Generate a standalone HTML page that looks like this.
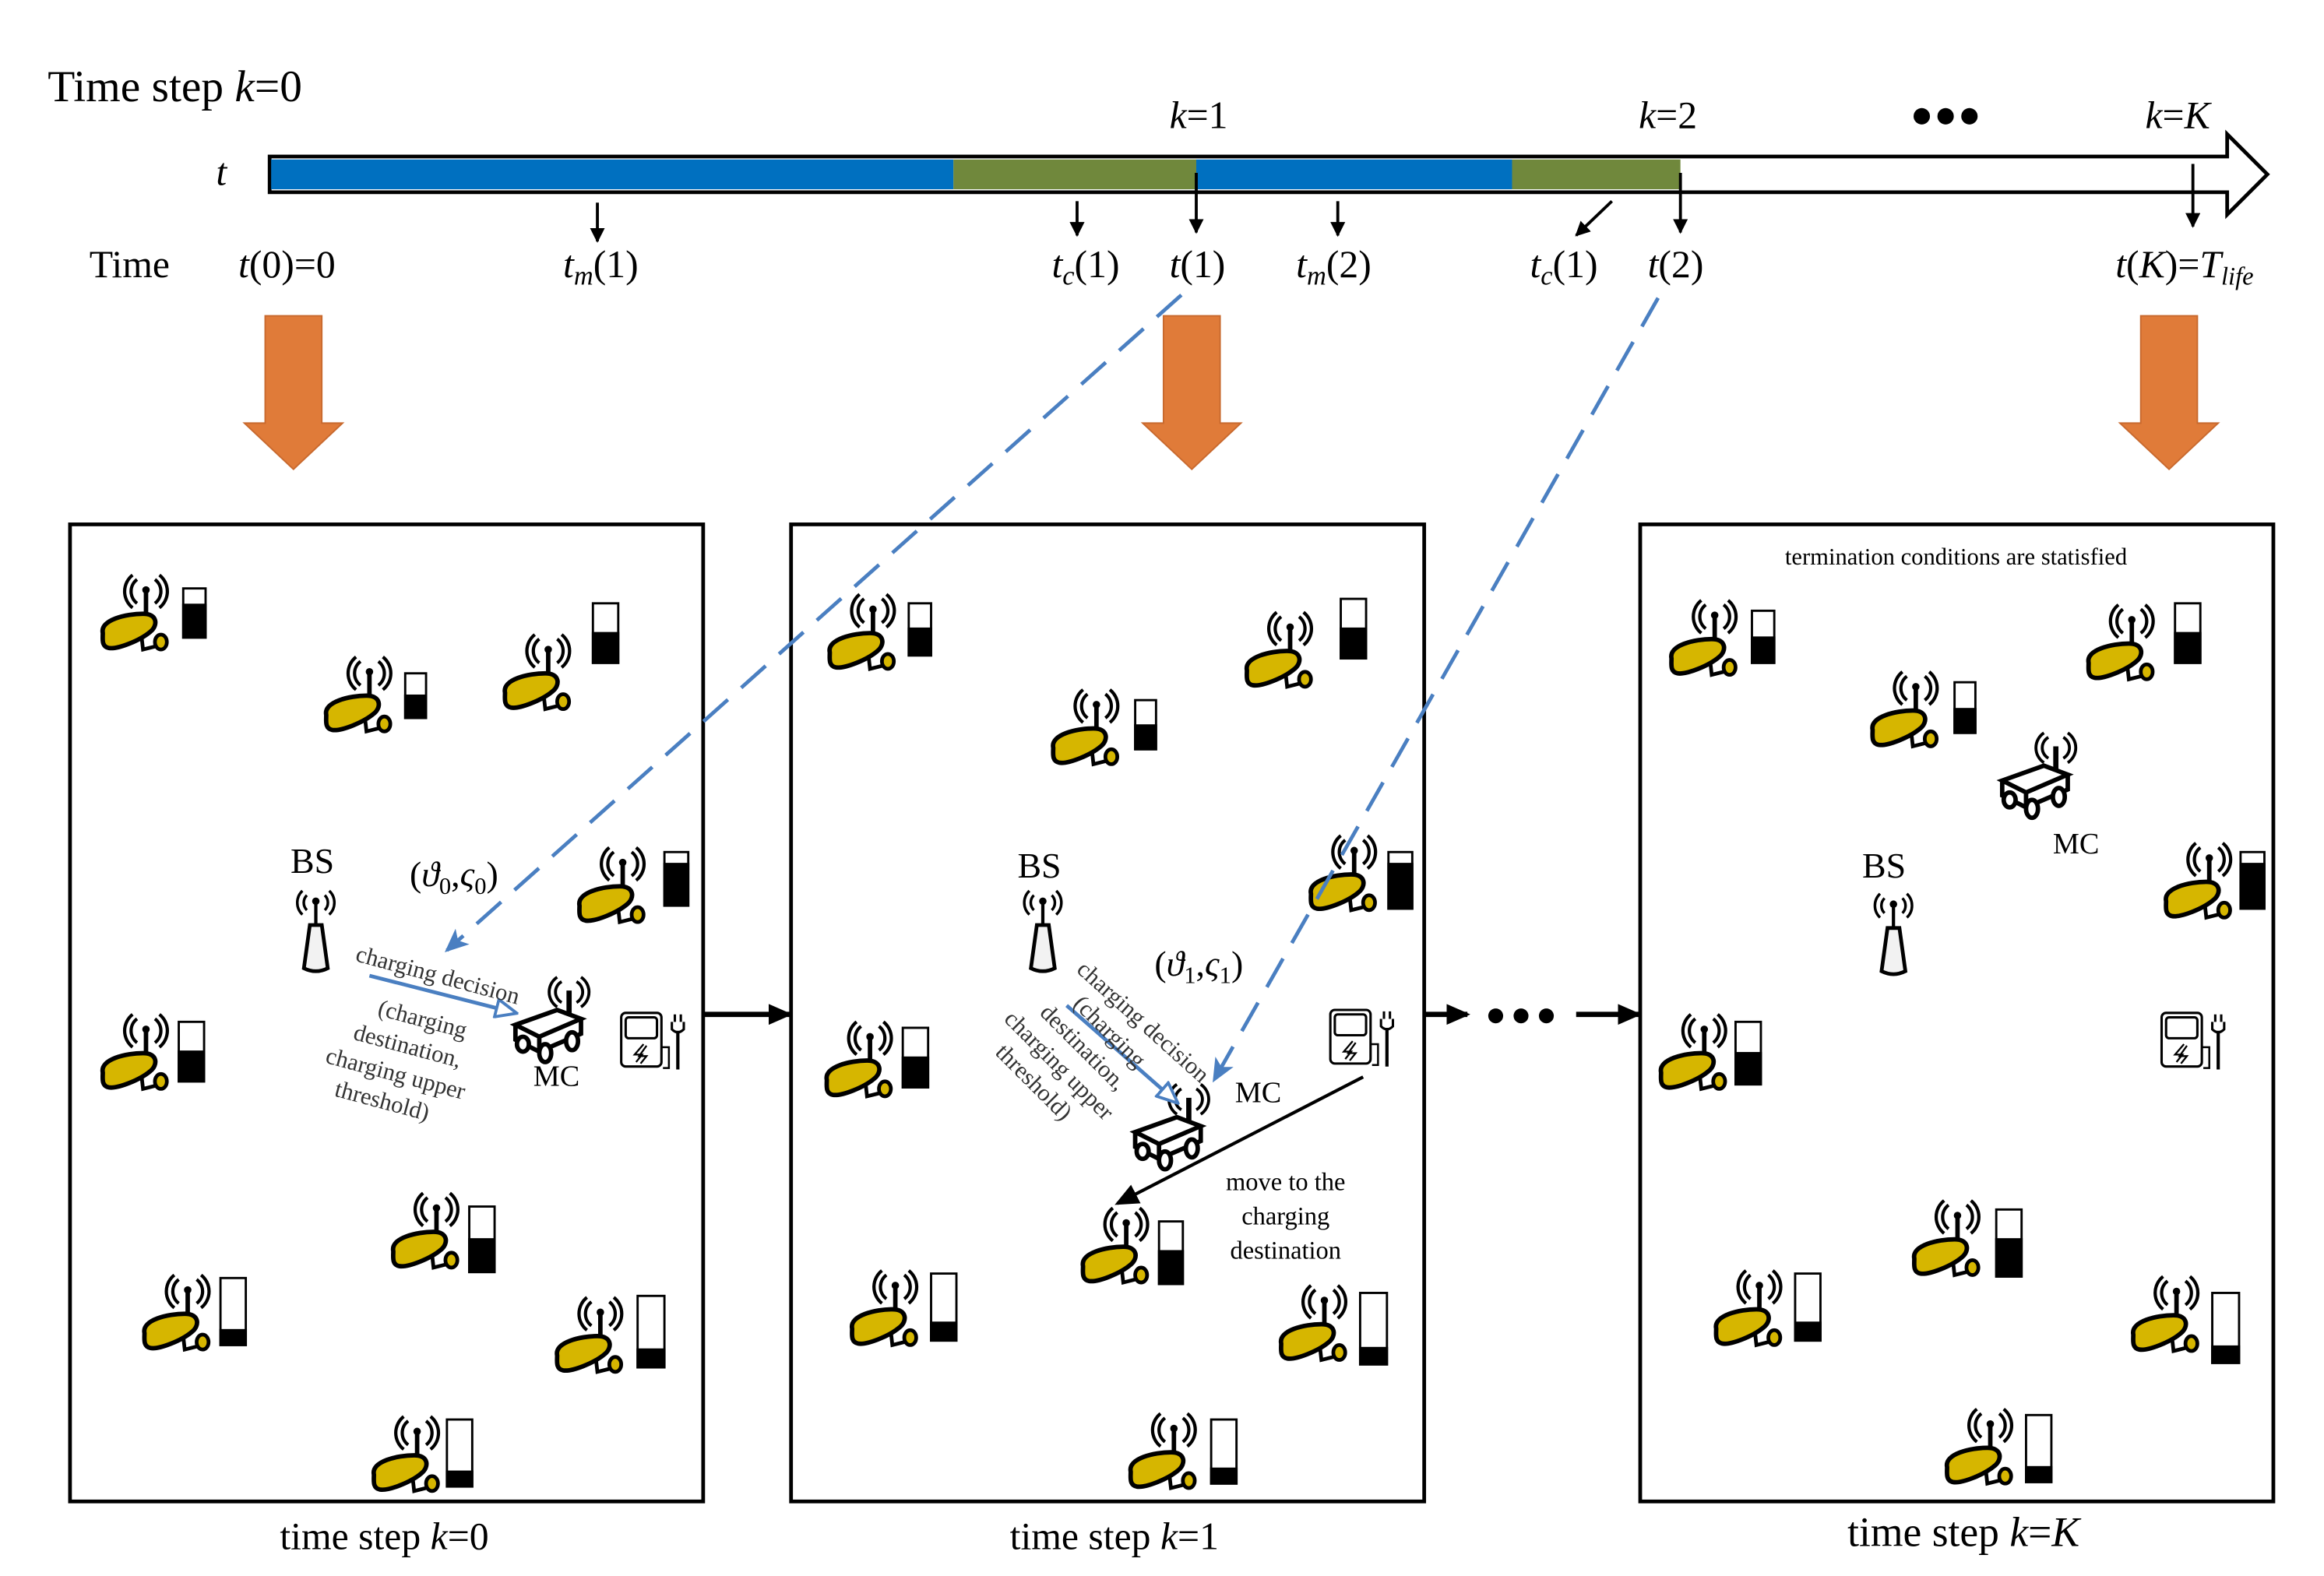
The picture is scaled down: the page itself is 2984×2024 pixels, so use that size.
<!DOCTYPE html>
<html><head><meta charset="utf-8"><style>html,body{margin:0;padding:0;background:#fff}svg{display:block}</style></head>
<body>
<svg width="2984" height="2024" viewBox="0 0 1560 1058" xmlns="http://www.w3.org/2000/svg" font-family="'Liberation Serif',serif">
<defs>
<g id="sensor">
  <path d="M27,4 A10,10 0 0 0 27,20 M24,1 A14,14 0 0 0 24,23 M39,4 A10,10 0 0 1 39,20 M42,1 A14,14 0 0 1 42,23" fill="none" stroke="#000" stroke-width="2.2"/>
  <line x1="33" y1="10" x2="33" y2="32" stroke="#000" stroke-width="3"/>
  <circle cx="33" cy="11" r="2.5"/>
  <path d="M4,40 C2,31 20,27 31,27 C41,27 41,35 36,39 C29,45 14,51 8,50 C3,49 4,44 4,40Z" fill="#d6b600" stroke="#000" stroke-width="3"/>
  <path d="M30,42 L31,51 L39,49" fill="none" stroke="#000" stroke-width="2.5"/>
  <ellipse cx="43" cy="46" rx="4" ry="5" fill="#d6b600" stroke="#000" stroke-width="2.5"/>
</g>
<g id="cart">
  <path d="M33,3 A8,8 0 0 0 33,17 M30,0 A12,12 0 0 0 30,20 M43,3 A8,8 0 0 1 43,17 M46,0 A12,12 0 0 1 46,20" fill="none" stroke="#000" stroke-width="2"/>
  <line x1="38" y1="9" x2="38" y2="30" stroke="#000" stroke-width="3.5"/>
  <path d="M2,32 L30,22 L46,28 L18,40 Z" fill="#fff" stroke="#000" stroke-width="3"/>
  <path d="M2,32 L2,42 L18,50 L46,38 L46,28 M18,40 L18,50" fill="none" stroke="#000" stroke-width="3"/>
  <ellipse cx="7" cy="45" rx="4" ry="5" fill="#fff" stroke="#000" stroke-width="3"/>
  <ellipse cx="22" cy="51" rx="4" ry="6" fill="#fff" stroke="#000" stroke-width="3"/>
  <ellipse cx="40" cy="43" rx="4" ry="6" fill="#fff" stroke="#000" stroke-width="3"/>
</g>
<g id="bs">
  <path d="M-6,3 A7,7 0 0 0 -6,13 M-9,0 A11,11 0 0 0 -9,16 M6,3 A7,7 0 0 1 6,13 M9,0 A11,11 0 0 1 9,16" fill="none" stroke="#000" stroke-width="1.8"/>
  <circle cx="0" cy="7" r="2.5"/>
  <line x1="0" y1="8" x2="0" y2="24" stroke="#000" stroke-width="2.2"/>
  <path d="M-4,23 L4,23 L8,52 Q0,56 -8,52 Z" fill="#f2f2f2" stroke="#000" stroke-width="2.5"/>
</g>
<g id="chg">
  <rect x="0" y="0" width="27" height="36" rx="3" fill="#fff" stroke="#000" stroke-width="1.6"/>
  <rect x="3" y="3" width="21" height="14" rx="2" fill="#fff" stroke="#000" stroke-width="1.6"/>
  <path d="M15,21 L9,28 L14,28 L10,33 M17,22 L12,29 L17,29 L13,34" fill="none" stroke="#000" stroke-width="1.2"/>
  <path d="M27,23 L32,23 L32,37 L28,37" fill="none" stroke="#000" stroke-width="1.3"/>
  <line x1="38" y1="12" x2="38" y2="38" stroke="#000" stroke-width="2.2"/>
  <path d="M34,6 L34,11 Q38,15 42,11 L42,6 M36,1 L36,6 M40,1 L40,6" fill="none" stroke="#000" stroke-width="1.6"/>
</g>
<marker id="ah" markerWidth="10" markerHeight="10" refX="9" refY="5" orient="auto" markerUnits="userSpaceOnUse"><path d="M0,0 L10,5 L0,10 Z" fill="#000"/></marker>
<marker id="ahb" markerWidth="16" markerHeight="14" refX="14" refY="7" orient="auto" markerUnits="userSpaceOnUse"><path d="M0,0 L16,7 L0,14 L4,7 Z" fill="#4a7fc1"/></marker>
<marker id="aho" markerWidth="16" markerHeight="14" refX="14" refY="7" orient="auto" markerUnits="userSpaceOnUse"><path d="M1,1 L15,7 L1,13 Z" fill="#fff" stroke="#4a7fc1" stroke-width="2"/></marker>
<marker id="ahk" markerWidth="16" markerHeight="14" refX="14" refY="7" orient="auto" markerUnits="userSpaceOnUse"><path d="M0,0 L16,7 L0,14 Z" fill="#000"/></marker>
</defs>

<!-- Timeline -->
<text x="32" y="68" font-size="30">Time step <tspan font-style="italic">k</tspan>=0</text>
<text x="145" y="124" font-size="26" font-style="italic">t</text>
<path d="M181,105 L1495,105 L1495,90 L1522,117 L1495,144 L1495,129 L181,129 Z" fill="#fff" stroke="#000" stroke-width="2.5"/>
<rect x="182" y="107" width="458" height="20" fill="#0070c0"/>
<rect x="640" y="107" width="163" height="20" fill="#70883c"/>
<rect x="803" y="107" width="212" height="20" fill="#0070c0"/>
<rect x="1015" y="107" width="113" height="20" fill="#70883c"/>
<g font-size="26" font-style="italic">
<text x="785" y="86">k<tspan font-style="normal">=1</tspan></text>
<text x="1100" y="86">k<tspan font-style="normal">=2</tspan></text>
<text x="1440" y="86">k<tspan font-style="normal">=</tspan>K</text>
</g>
<circle cx="1290" cy="78" r="5.5"/><circle cx="1306" cy="78" r="5.5"/><circle cx="1322" cy="78" r="5.5"/>
<g stroke="#000" stroke-width="2" marker-end="url(#ah)">
<line x1="401" y1="136" x2="401" y2="162"/>
<line x1="723" y1="135" x2="723" y2="158"/>
<line x1="803" y1="116" x2="803" y2="156"/>
<line x1="898" y1="135" x2="898" y2="158"/>
<line x1="1082" y1="135" x2="1058" y2="158"/>
<line x1="1128" y1="116" x2="1128" y2="156"/>
<line x1="1472" y1="110" x2="1472" y2="152"/>
</g>
<g font-size="26">
<text x="60" y="186">Time</text>
<text x="160" y="186"><tspan font-style="italic">t</tspan>(0)=0</text>
<text x="378" y="186"><tspan font-style="italic">t<tspan font-size="18" dy="5">m</tspan></tspan><tspan dy="-5">(1)</tspan></text>
<text x="706" y="186"><tspan font-style="italic">t<tspan font-size="18" dy="5">c</tspan></tspan><tspan dy="-5">(1)</tspan></text>
<text x="785" y="186"><tspan font-style="italic">t</tspan>(1)</text>
<text x="870" y="186"><tspan font-style="italic">t<tspan font-size="18" dy="5">m</tspan></tspan><tspan dy="-5">(2)</tspan></text>
<text x="1027" y="186"><tspan font-style="italic">t<tspan font-size="18" dy="5">c</tspan></tspan><tspan dy="-5">(1)</tspan></text>
<text x="1106" y="186"><tspan font-style="italic">t</tspan>(2)</text>
<text x="1420" y="186"><tspan font-style="italic">t</tspan>(<tspan font-style="italic">K</tspan>)=<tspan font-style="italic">T<tspan font-size="17" dy="5">life</tspan></tspan></text>
</g>

<!-- orange arrows -->
<g fill="#e07b39" stroke="#c8692e" stroke-width="1">
<path d="M178,212 L216,212 L216,284 L230,284 L197,315 L164,284 L178,284 Z"/>
<path d="M781,212 L819,212 L819,284 L833,284 L800,315 L767,284 L781,284 Z"/>
<path d="M1437,212 L1475,212 L1475,284 L1489,284 L1456,315 L1423,284 L1437,284 Z"/>
</g>

<!-- panels -->
<g fill="none" stroke="#000" stroke-width="2.5">
<rect x="47" y="352" width="425" height="656"/>
<rect x="531" y="352" width="425" height="656"/>
<rect x="1101" y="352" width="425" height="656"/>
</g>
<g stroke="#000" stroke-width="3.5" marker-end="url(#ahk)">
<line x1="472" y1="681" x2="530" y2="681"/>
<line x1="957" y1="681" x2="985" y2="681"/>
<line x1="1058" y1="681" x2="1100" y2="681"/>
</g>
<circle cx="1004" cy="682" r="5"/><circle cx="1021" cy="682" r="5"/><circle cx="1038" cy="682" r="5"/>

<!-- sensors -->
<g>
<use href="#sensor" x="65" y="385"/><use href="#sensor" x="215" y="440"/><use href="#sensor" x="335" y="425"/>
<use href="#sensor" x="385" y="568"/><use href="#sensor" x="65" y="680"/><use href="#sensor" x="260" y="800"/>
<use href="#sensor" x="93" y="855"/><use href="#sensor" x="370" y="870"/><use href="#sensor" x="247" y="950"/>
<use href="#sensor" x="553" y="398"/><use href="#sensor" x="833" y="410"/><use href="#sensor" x="703" y="462"/>
<use href="#sensor" x="876" y="560"/><use href="#sensor" x="551" y="685"/><use href="#sensor" x="723" y="810"/>
<use href="#sensor" x="568" y="852"/><use href="#sensor" x="856" y="862"/><use href="#sensor" x="755" y="948"/>
<use href="#sensor" x="1118" y="402"/><use href="#sensor" x="1398" y="405"/><use href="#sensor" x="1253" y="450"/>
<use href="#sensor" x="1450" y="565"/><use href="#sensor" x="1111" y="680"/><use href="#sensor" x="1281" y="805"/>
<use href="#sensor" x="1148" y="852"/><use href="#sensor" x="1428" y="856"/><use href="#sensor" x="1303" y="945"/>
</g>
<!-- batteries: white box, black fill bottom -->
<g stroke="#000" stroke-width="1.5">
<!-- panel1 -->
<rect x="123" y="395" width="15" height="33" fill="#fff"/><rect x="123" y="406" width="15" height="22" fill="#000"/>
<rect x="272" y="452" width="14" height="30" fill="#fff"/><rect x="272" y="467" width="14" height="15" fill="#000"/>
<rect x="398" y="405" width="17" height="40" fill="#fff"/><rect x="398" y="425" width="17" height="20" fill="#000"/>
<rect x="446" y="572" width="16" height="36" fill="#fff"/><rect x="446" y="580" width="16" height="28" fill="#000"/>
<rect x="120" y="686" width="17" height="40" fill="#fff"/><rect x="120" y="706" width="17" height="20" fill="#000"/>
<rect x="315" y="810" width="17" height="44" fill="#fff"/><rect x="315" y="832" width="17" height="22" fill="#000"/>
<rect x="148" y="858" width="17" height="45" fill="#fff"/><rect x="148" y="893" width="17" height="10" fill="#000"/>
<rect x="428" y="870" width="18" height="48" fill="#fff"/><rect x="428" y="906" width="18" height="12" fill="#000"/>
<rect x="300" y="953" width="17" height="45" fill="#fff"/><rect x="300" y="988" width="17" height="10" fill="#000"/>
<!-- panel2 -->
<rect x="610" y="405" width="15" height="35" fill="#fff"/><rect x="610" y="422" width="15" height="18" fill="#000"/>
<rect x="900" y="402" width="17" height="40" fill="#fff"/><rect x="900" y="422" width="17" height="20" fill="#000"/>
<rect x="762" y="470" width="14" height="33" fill="#fff"/><rect x="762" y="487" width="14" height="16" fill="#000"/>
<rect x="932" y="572" width="16" height="38" fill="#fff"/><rect x="932" y="580" width="16" height="30" fill="#000"/>
<rect x="606" y="690" width="17" height="40" fill="#fff"/><rect x="606" y="710" width="17" height="20" fill="#000"/>
<rect x="778" y="820" width="16" height="42" fill="#fff"/><rect x="778" y="840" width="16" height="22" fill="#000"/>
<rect x="625" y="855" width="17" height="45" fill="#fff"/><rect x="625" y="888" width="17" height="12" fill="#000"/>
<rect x="913" y="868" width="18" height="48" fill="#fff"/><rect x="913" y="905" width="18" height="11" fill="#000"/>
<rect x="813" y="953" width="17" height="43" fill="#fff"/><rect x="813" y="986" width="17" height="10" fill="#000"/>
<!-- panel3 -->
<rect x="1176" y="410" width="15" height="35" fill="#fff"/><rect x="1176" y="428" width="15" height="17" fill="#000"/>
<rect x="1460" y="405" width="17" height="40" fill="#fff"/><rect x="1460" y="425" width="17" height="20" fill="#000"/>
<rect x="1312" y="458" width="14" height="34" fill="#fff"/><rect x="1312" y="476" width="14" height="16" fill="#000"/>
<rect x="1504" y="572" width="16" height="38" fill="#fff"/><rect x="1504" y="580" width="16" height="30" fill="#000"/>
<rect x="1165" y="686" width="17" height="42" fill="#fff"/><rect x="1165" y="707" width="17" height="21" fill="#000"/>
<rect x="1340" y="812" width="17" height="45" fill="#fff"/><rect x="1340" y="832" width="17" height="25" fill="#000"/>
<rect x="1205" y="855" width="17" height="45" fill="#fff"/><rect x="1205" y="888" width="17" height="12" fill="#000"/>
<rect x="1485" y="868" width="18" height="47" fill="#fff"/><rect x="1485" y="904" width="18" height="11" fill="#000"/>
<rect x="1360" y="950" width="17" height="45" fill="#fff"/><rect x="1360" y="985" width="17" height="10" fill="#000"/>
</g>

<!-- BS, chargers, carts -->
<use href="#bs" x="212" y="598"/><use href="#bs" x="700" y="598"/><use href="#bs" x="1271" y="600"/>
<use href="#chg" x="417" y="680"/><use href="#chg" x="893" y="678"/><use href="#chg" x="1451" y="680"/>
<use href="#cart" x="344" y="656"/><use href="#cart" x="760" y="728"/><use href="#cart" x="1342" y="492"/>

<g font-size="24">
<text x="195" y="586">BS</text><text x="683" y="589">BS</text><text x="1250" y="589">BS</text>
</g>
<g font-size="20">
<text x="358" y="729">MC</text><text x="829" y="740">MC</text><text x="1378" y="573">MC</text>
</g>
<text x="275" y="595" font-size="24">(<tspan font-style="italic">ϑ</tspan><tspan font-size="16" dy="5">0</tspan><tspan dy="-5">,</tspan><tspan font-style="italic">ς</tspan><tspan font-size="16" dy="5">0</tspan><tspan dy="-5">)</tspan></text>
<text x="775" y="655" font-size="24">(<tspan font-style="italic">ϑ</tspan><tspan font-size="16" dy="5">1</tspan><tspan dy="-5">,</tspan><tspan font-style="italic">ς</tspan><tspan font-size="16" dy="5">1</tspan><tspan dy="-5">)</tspan></text>

<!-- dashed blue -->
<g stroke="#4a7fc1" stroke-width="2.5" fill="none" stroke-dasharray="22,12">
<line x1="793" y1="198" x2="300" y2="638" marker-end="url(#ahb)"/>
<line x1="1113" y1="200" x2="815" y2="725" marker-end="url(#ahb)"/>
</g>
<!-- blue decision arrows -->
<g stroke="#4a7fc1" stroke-width="2.5">
<line x1="248" y1="655" x2="346" y2="680" marker-end="url(#aho)"/>
<line x1="716" y1="675" x2="790" y2="740" marker-end="url(#aho)"/>
</g>
<!-- move arrow -->
<line x1="915" y1="723" x2="750" y2="808" stroke="#000" stroke-width="2.2" marker-end="url(#ahk)"/>

<g font-size="16" fill="#333">
<text transform="translate(238,645) rotate(15)">charging decision</text>
<g transform="translate(258,664) rotate(15)" text-anchor="middle">
<text x="30" y="18">(charging</text><text x="25" y="38">destination,</text><text x="22" y="58">charging upper</text><text x="18" y="78">threshold)</text>
</g>
<text transform="translate(722,652) rotate(42)">charging decision</text>
<g transform="translate(720,675) rotate(45)" text-anchor="middle">
<text x="30" y="0">(charging</text><text x="25" y="20">destination,</text><text x="22" y="40">charging upper</text><text x="18" y="60">threshold)</text>
</g>
</g>
<g font-size="17" text-anchor="middle">
<text x="863" y="799">move to the</text><text x="863" y="822">charging</text><text x="863" y="845">destination</text>
<text x="1313" y="379" font-size="16">termination conditions are statisfied</text>
</g>

<g font-size="26" text-anchor="middle">
<text x="258" y="1040">time step <tspan font-style="italic">k</tspan>=0</text>
<text x="748" y="1040">time step  <tspan font-style="italic">k</tspan>=1</text>
<text x="1318" y="1038" font-size="28">time step  <tspan font-style="italic">k</tspan>=<tspan font-style="italic">K</tspan></text>
</g>
</svg>
</body></html>
